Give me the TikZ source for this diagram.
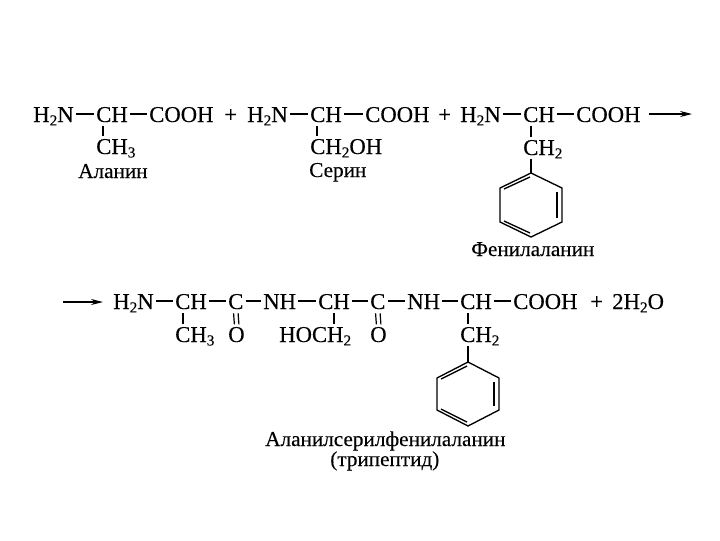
\documentclass[tikz,border=0pt]{standalone}
\usepackage{fontspec}
\setmainfont[FakeBold=0.25]{Liberation Serif}
\usepackage{tikz}
\usetikzlibrary{arrows.meta}
\newcommand{\lowtwo}[1]{\raisebox{-2.6pt}{\fontsize{11.5}{12}\selectfont #1}}
\tikzset{
  chem/.style={anchor=base west,inner sep=0pt,font=\fontsize{17}{20}\selectfont,text height=15pt,text depth=3pt},
  caption/.style={anchor=base west,inner sep=0pt,font=\fontsize{15.9}{18}\selectfont},
  bond/.style={line width=0.9pt,shorten <=1.5pt,shorten >=1.5pt},
  downbond/.style={line width=0.9pt,shorten >=-2pt},
  ring/.style={line width=1pt,line join=miter},
  yields/.style={line width=0.9pt,-{Stealth[length=9pt,width=4.5pt]}}
}
\begin{document}
\begin{tikzpicture}[x=0.75pt,y=0.75pt,yscale=-1,xscale=1]
\useasboundingbox (0,0) rectangle (720,540);

% Text Node
\draw (33,122) node (aminoA) [chem] {H\lowtwo{2}N};
\draw (96,122) node (chA) [chem] {CH};
\draw (149,122) node (acidA) [chem] {COOH};
\draw (224,122) node (plusA) [chem] {+};
\draw (96,154) node (methylA) [chem] {CH\lowtwo{3}};
\draw (78,178) node (nameA) [caption] {Аланин};
% Text Node
\draw (247,122) node (aminoB) [chem] {H\lowtwo{2}N};
\draw (310,122) node (chB) [chem] {CH};
\draw (365,122) node (acidB) [chem] {COOH};
\draw (438,122) node (plusB) [chem] {+};
\draw (310,154) node (hydroxyB) [chem] {CH\lowtwo{2}OH};
\draw (309,177) node (nameB) [caption] {Серин};
% Text Node
\draw (460,122) node (aminoC) [chem] {H\lowtwo{2}N};
\draw (523,122) node (chC) [chem] {CH};
\draw (576,122) node (acidC) [chem] {COOH};
\draw (523,155) node (benzylC) [chem] {CH\lowtwo{2}};
\draw (471,256) node (nameC) [caption] {Фенилаланин};

% Text Node
\draw (113,309) node (aminoP) [chem] {H\lowtwo{2}N};
\draw (175,309) node (chP) [chem] {CH};
\draw (228,309) node (carbP) [chem] {C};
\draw (263,309) node (nhP) [chem] {NH};
\draw (318,309) node (chQ) [chem] {CH};
\draw (370,309) node (carbQ) [chem] {C};
\draw (407,309) node (nhQ) [chem] {NH};
\draw (460,309) node (chR) [chem] {CH};
\draw (513,309) node (acidR) [chem] {COOH};
\draw (590,309) node (plusR) [chem] {+};
\draw (612,309) node (water) [chem] {2H\lowtwo{2}O};
% Text Node
\draw (175,342) node (methylP) [chem] {CH\lowtwo{3}};
\draw (228,342) node (oxoP) [chem] {O};
\draw (279,342) node (hydroxyQ) [chem] {HOCH\lowtwo{2}};
\draw (370,342) node (oxoQ) [chem] {O};
\draw (460,342) node (benzylR) [chem] {CH\lowtwo{2}};
\draw (265,446) node (nameP) [caption] {Аланилсерилфенилаланин};
\draw (330,466) node (nameQ) [caption] {(трипептид)};

%Straight Lines
\draw [bond] (aminoA.east) -- (chA.west);
\draw [bond] (chA.east) -- (acidA.west);
\draw [downbond] ([xshift=5.25pt]chA.south west) -- ([xshift=5.25pt]methylA.north west);
%Straight Lines
\draw [bond] (aminoB.east) -- (chB.west);
\draw [bond] (chB.east) -- (acidB.west);
\draw [downbond] ([xshift=5.25pt]chB.south west) -- ([xshift=5.25pt]hydroxyB.north west);
%Straight Lines
\draw [bond] (aminoC.east) -- (chC.west);
\draw [bond] (chC.east) -- (acidC.west);
\draw [downbond] ([xshift=6pt]chC.south west) -- ([xshift=6pt]benzylC.north west);
%Straight Lines
\draw [bond] (aminoP.east) -- (chP.west);
\draw [bond] (chP.east) -- (carbP.west);
\draw [bond] (carbP.east) -- (nhP.west);
\draw [bond] (nhP.east) -- (chQ.west);
\draw [bond] (chQ.east) -- (carbQ.west);
\draw [bond] (carbQ.east) -- (nhQ.west);
\draw [bond] (nhQ.east) -- (chR.west);
\draw [bond] (chR.east) -- (acidR.west);
\draw [downbond] ([xshift=6pt]chP.south west) -- ([xshift=6pt]methylP.north west);
\draw [downbond] (chQ.south) -- (chQ.south |- hydroxyQ.north);
\draw [downbond] ([xshift=6pt]chR.south west) -- ([xshift=6pt]benzylR.north west);
%Double Bonds
\draw [downbond] ([xshift=-1.7pt]carbP.south) -- ([xshift=-1.7pt]oxoP.north);
\draw [downbond] ([xshift=1.7pt]carbP.south) -- ([xshift=1.7pt]oxoP.north);
\draw [downbond] ([xshift=-1.7pt]carbQ.south) -- ([xshift=-1.7pt]oxoQ.north);
\draw [downbond] ([xshift=1.7pt]carbQ.south) -- ([xshift=1.7pt]oxoQ.north);

%Arrows
\coordinate (startTop) at (649,114);
\coordinate (endTop) at (692,114);
\coordinate (startLow) at (63,302);
\coordinate (endLow) at (103,302);
\draw [yields] (startTop) -- (endTop);
\draw [yields] (startLow) -- (endLow);

%Shape: Ring
\coordinate (topC) at (531,173);
\draw [ring] ([xshift=6pt]benzylC.south west) -- (topC);
\draw [ring] (topC) -- (562,188) -- (562,222) -- (531,237) -- (500,222) -- (500,188) -- cycle;
\draw [ring] (504,189) -- (530,177);
\draw [ring] (557,192) -- (557,218);
\draw [ring] (504,221) -- (530,233);
%Shape: Ring
\coordinate (topR) at (468,362);
\draw [ring] ([xshift=6pt]benzylR.south west) -- (topR);
\draw [ring] (topR) -- (499,378) -- (499,410) -- (468,426) -- (437,410) -- (437,378) -- cycle;
\draw [ring] (441,379) -- (467,366);
\draw [ring] (494,382) -- (494,406);
\draw [ring] (441,409) -- (467,422);

\end{tikzpicture}
\end{document}
